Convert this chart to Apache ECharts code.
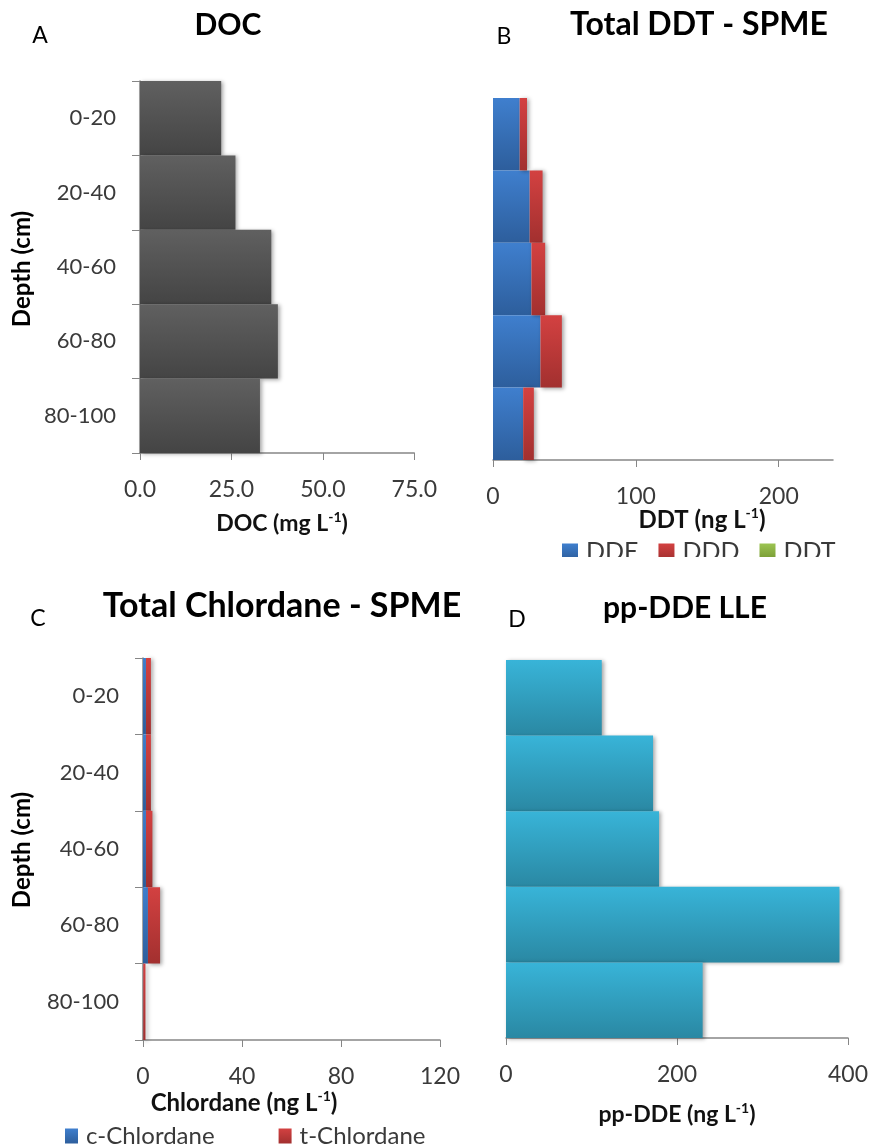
<!DOCTYPE html>
<html>
<head>
<meta charset="utf-8">
<script src="https://cdn.jsdelivr.net/npm/echarts@6/dist/echarts.min.js"></script>
<style>
  body { margin: 0; background: #fff; }
  .panel { position: absolute; }
</style>
</head>
<body>
<div id="doc" class="panel" style="left:0;top:0;width:440px;height:557px;"></div>
<div id="ddt" class="panel" style="left:440px;top:0;width:431px;height:557px;"></div>
<div id="chlordane" class="panel" style="left:0;top:562px;width:470px;height:585px;"></div>
<div id="ppdde" class="panel" style="left:470px;top:562px;width:401px;height:585px;"></div>
<script>
const depthLabels = ['0-20', '20-40', '40-60', '60-80', '80-100'];
const docValues = [22.2, 26.1, 35.9, 37.7, 32.8];
const ddeValues = [18.7, 25.7, 26.9, 33.2, 21.1];
const dddValues = [5.1, 9.0, 9.6, 15.0, 7.5];
const ddtValues = [0, 0, 0, 0, 0];
const cChlordaneValues = [1.2, 1.2, 1.2, 2.0, 0.1];
const tChlordaneValues = [2.0, 2.0, 2.6, 4.9, 0.9];
const ppDdeValues = [112, 172, 179, 390, 230];

const FONT = 'Lato';
const AXIS_GREY = '#868686';
const LABEL_COLOR = '#3a3a3a';

const grad = (top, bottom) => ({
  type: 'linear', x: 0, y: 0, x2: 0, y2: 1,
  colorStops: [{ offset: 0, color: top }, { offset: 1, color: bottom }]
});

const BLUE = grad('#3f7fce', '#2d5e9c');
const RED = grad('#d34141', '#a2302f');
const GREEN = grad('#9cc452', '#779a33');

const shadow = { shadowColor: 'rgba(0,0,0,0.35)', shadowBlur: 4, shadowOffsetX: 2, shadowOffsetY: 1 };

// panel letter, title and axis names are drawn as graphic text
const txt = (text, x, y, size, bold) => ({
  type: 'text', x: x, y: y,
  style: {
    text: text, fill: '#000', textAlign: 'center', textVerticalAlign: 'middle',
    font: (bold ? 'bold ' : '') + size + 'px ' + FONT
  }
});

const supName = (before, x, y, size) => ({
  type: 'text', x: x, y: y,
  style: {
    text: '{b|' + before + '}{s|-1}{b|)}',
    fill: '#000', textAlign: 'center', textVerticalAlign: 'middle',
    rich: {
      b: { font: 'bold ' + size + 'px ' + FONT, lineHeight: size + 4, fill: '#111' },
      s: { font: 'bold ' + Math.round(size * 0.6) + 'px ' + FONT, lineHeight: Math.round(size * 0.65), verticalAlign: 'top', fill: '#111' }
    }
  }
});

const depthName = (x, y) => ({
  type: 'text', x: x, y: y, rotation: Math.PI / 2,
  style: {
    text: 'Depth (cm)', fill: '#000', textAlign: 'center', textVerticalAlign: 'middle',
    font: 'bold 24px ' + FONT
  }
});

const valueAxis = (max, interval, fmt, ticks) => ({
  type: 'value', min: 0, max: max, interval: interval,
  axisLine: { show: true, lineStyle: { color: AXIS_GREY, width: 1.5 } },
  axisTick: { show: true, length: 7, lineStyle: { color: AXIS_GREY }, customValues: ticks },
  axisLabel: { fontFamily: FONT, fontSize: 23, color: LABEL_COLOR, margin: 25, formatter: fmt, customValues: ticks },
  splitLine: { show: false }
});

const depthAxis = (showLabels) => ({
  type: 'category', data: depthLabels, inverse: true,
  axisLine: { show: showLabels, lineStyle: { color: AXIS_GREY, width: 1.5 } },
  axisTick: { show: showLabels, length: 8, interval: 0, lineStyle: { color: AXIS_GREY } },
  axisLabel: { show: showLabels, fontFamily: FONT, fontSize: 22, color: LABEL_COLOR, margin: 24 }
});

const initDocChart = () => {
  const myChart = echarts.init(document.getElementById('doc'));
  myChart.setOption({
    animation: false,
    grid: { left: 140, top: 81, width: 284, height: 372 },
    graphic: [
      txt('A', 40, 36, 23, false),
      txt('DOC', 228, 25, 30, true),
      depthName(22, 269),
      supName('DOC (mg L', 282, 524, 23)
    ],
    xAxis: valueAxis(75, 25, v => v.toFixed(1), [0, 25, 50, 75]),
    yAxis: depthAxis(true),
    series: [{
      type: 'bar', data: docValues, barCategoryGap: '0%',
      itemStyle: Object.assign({ color: grad('#606060', '#444444') }, shadow)
    }]
  });
};

const initDdtChart = () => {
  const myChart = echarts.init(document.getElementById('ddt'));
  myChart.setOption({
    animation: false,
    grid: { left: 53, top: 98, width: 340, height: 362 },
    graphic: [
      txt('B', 64, 37, 23, false),
      txt('Total DDT - SPME', 259, 25, 32, true),
      supName('DDT (ng L', 262, 520, 24)
    ],
    legend: {
      data: ['DDE', 'DDD', 'DDT'], left: 117, top: 534,
      icon: 'rect', itemWidth: 16, itemHeight: 16, itemGap: 20,
      textStyle: { fontFamily: FONT, fontSize: 25, color: LABEL_COLOR, padding: [0, 0, 0, 3] }
    },
    xAxis: valueAxis(238, 100, v => String(v), [0, 100, 200]),
    yAxis: depthAxis(false),
    series: [
      { name: 'DDE', type: 'bar', stack: 'ddt', data: ddeValues, barCategoryGap: '0%', itemStyle: { color: BLUE } },
      { name: 'DDD', type: 'bar', stack: 'ddt', data: dddValues, itemStyle: Object.assign({ color: RED }, shadow) },
      { name: 'DDT', type: 'bar', stack: 'ddt', data: ddtValues, itemStyle: { color: GREEN } }
    ]
  });
};

const initChlordaneChart = () => {
  const myChart = echarts.init(document.getElementById('chlordane'));
  myChart.setOption({
    animation: false,
    grid: { left: 143, top: 96, width: 297, height: 382 },
    graphic: [
      txt('C', 38, 57, 23, false),
      txt('Total Chlordane - SPME', 282, 44, 34, true),
      depthName(22, 288),
      supName('Chlordane (ng L', 244, 541, 24)
    ],
    legend: {
      data: ['c-Chlordane', 't-Chlordane'], left: 60, top: 557,
      icon: 'rect', itemWidth: 13, itemHeight: 15, itemGap: 64,
      textStyle: { fontFamily: FONT, fontSize: 24, color: LABEL_COLOR, padding: [0, 0, 0, 3] }
    },
    xAxis: valueAxis(120, 40, v => String(v), [0, 40, 80, 120]),
    yAxis: depthAxis(true),
    series: [
      { name: 'c-Chlordane', type: 'bar', stack: 'chl', data: cChlordaneValues, barCategoryGap: '0%', itemStyle: { color: BLUE } },
      { name: 't-Chlordane', type: 'bar', stack: 'chl', data: tChlordaneValues, itemStyle: Object.assign({ color: RED }, shadow) }
    ]
  });
};

const initPpDdeChart = () => {
  const myChart = echarts.init(document.getElementById('ppdde'));
  myChart.setOption({
    animation: false,
    grid: { left: 36, top: 98, width: 343, height: 378 },
    graphic: [
      txt('D', 47, 58, 23, false),
      txt('pp-DDE LLE', 215, 46, 30, true),
      supName('pp-DDE (ng L', 207, 553, 23)
    ],
    xAxis: valueAxis(400, 200, v => String(v), [0, 200, 400]),
    yAxis: depthAxis(false),
    series: [{
      type: 'bar', data: ppDdeValues, barCategoryGap: '0%',
      itemStyle: Object.assign({ color: grad('#38b4d8', '#2a88a3') }, shadow)
    }]
  });
};

initDocChart();
initDdtChart();
initChlordaneChart();
initPpDdeChart();
</script>
</body>
</html>
